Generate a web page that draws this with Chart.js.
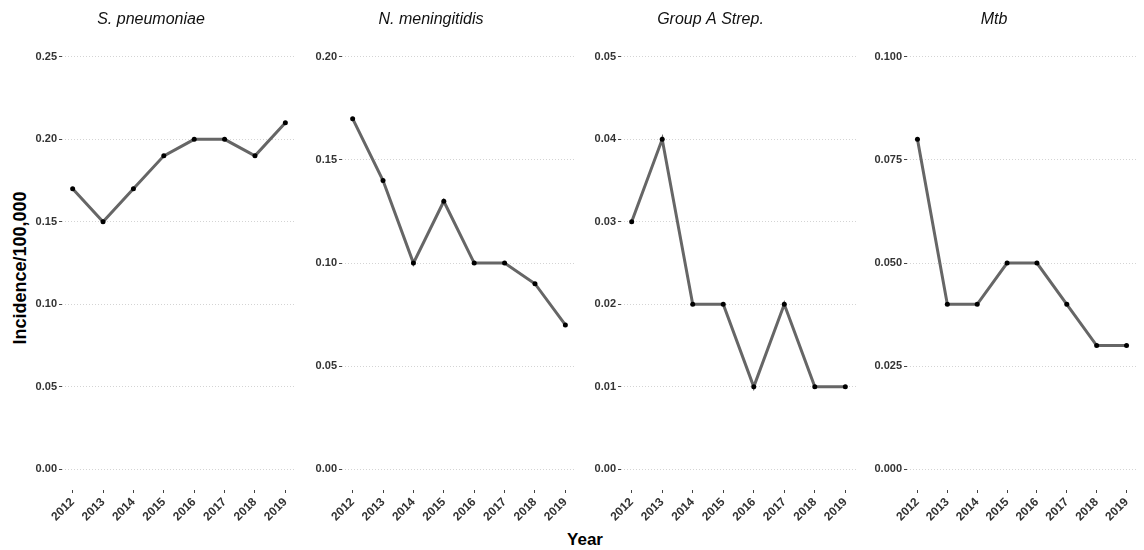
<!DOCTYPE html>
<html>
<head>
<meta charset="utf-8">
<script src="https://cdn.jsdelivr.net/npm/chart.js@4/dist/chart.umd.min.js"></script>
<style>
  html, body { margin: 0; padding: 0; background: #fff; }
  #wrap { position: relative; width: 1144px; height: 550px; overflow: hidden; font-family: "Liberation Sans", Arial, sans-serif; }
  .panel { position: absolute; top: 0; height: 550px; }
  #ylab { position: absolute; left: 20px; top: 268px; transform: translate(-50%, -50%) rotate(-90deg); font-weight: bold; font-size: 18px; color: #000; white-space: nowrap; }
  #xlab { position: absolute; left: 585px; top: 540px; transform: translate(-50%, -50%); font-weight: bold; font-size: 17px; color: #000; }
</style>
</head>
<body>
<div id="wrap">
  <div id="ylab">Incidence/100,000</div>
  <div id="xlab">Year</div>
</div>
<script>
const years = [2012, 2013, 2014, 2015, 2016, 2017, 2018, 2019];
const panelTitles = ["S. pneumoniae", "N. meningitidis", "Group A Strep.", "Mtb"];
const sPneumoniae = [0.17, 0.15, 0.17, 0.19, 0.20, 0.20, 0.19, 0.21];
const nMeningitidis = [0.17, 0.14, 0.10, 0.13, 0.10, 0.10, 0.09, 0.07];
const groupAStrep = [0.03, 0.04, 0.02, 0.02, 0.01, 0.02, 0.01, 0.01];
const mtb = [0.08, 0.04, 0.04, 0.05, 0.05, 0.04, 0.03, 0.03];
const yTicks1 = [0, 0.05, 0.10, 0.15, 0.20, 0.25];
const yTicks2 = [0, 0.05, 0.10, 0.15, 0.20];
const yTicks3 = [0, 0.01, 0.02, 0.03, 0.04, 0.05];
const yTicks4 = [0, 0.025, 0.05, 0.075, 0.10];
const yDecimals = [2, 2, 2, 3];

const seriesList = [sPneumoniae, nMeningitidis, groupAStrep, mtb];
const tickList = [yTicks1, yTicks2, yTicks3, yTicks4];
// plot-area left/right edges (pixels)
const plotLeft = [62, 342, 621, 907];
const plotRight = [300, 580, 860, 1141];
const Y_AXIS_W = 60;

const wrap = document.getElementById('wrap');

seriesList.forEach((vals, i) => {
  const ticks = tickList[i];
  const top = ticks[ticks.length - 1];
  const exp = top * 0.05;
  const xExp = (years[years.length - 1] - years[0]) * 0.05;
  const left = plotLeft[i] - Y_AXIS_W;
  const width = plotRight[i] - left;
  const div = document.createElement('div');
  div.className = 'panel';
  div.style.left = left + 'px';
  div.style.width = width + 'px';
  const cv = document.createElement('canvas');
  div.appendChild(cv);
  wrap.appendChild(div);

  new Chart(cv, {
    type: 'line',
    data: {
      datasets: [{
        data: years.map((y, k) => ({ x: y, y: vals[k] })),
        borderColor: '#666666',
        borderWidth: 3,
        pointRadius: 2.5,
        pointBackgroundColor: '#000',
        pointBorderColor: '#000',
        pointBorderWidth: 0,
        tension: 0,
        clip: false
      }]
    },
    options: {
      responsive: true,
      maintainAspectRatio: false,
      animation: false,
      layout: { padding: { top: 0, right: 0, bottom: 0, left: 0 } },
      plugins: {
        legend: { display: false },
        tooltip: { enabled: false },
        title: {
          display: true,
          text: panelTitles[i],
          color: '#111',
          font: { family: 'Liberation Sans', size: 16, style: 'italic', weight: 'normal' },
          padding: { top: 10, bottom: 7 }
        }
      },
      scales: {
        x: {
          type: 'linear',
          min: years[0] - xExp,
          max: years[years.length - 1] + xExp,
          afterBuildTicks: (s) => { s.ticks = years.map(v => ({ value: v })); },
          afterFit: (s) => { s.height = 60; },
          grid: { display: true, drawOnChartArea: false, color: 'transparent', tickColor: '#444', tickLength: 3, tickWidth: 1 },
          border: { display: false },
          ticks: {
            autoSkip: false,
            minRotation: 45, maxRotation: 45,
            padding: 2,
            color: '#333',
            font: { family: 'Liberation Sans', size: 12, weight: 'bold' },
            callback: (v) => String(v)
          }
        },
        y: {
          min: -exp,
          max: top + exp,
          afterBuildTicks: (s) => { s.ticks = ticks.map(v => ({ value: v })); },
          afterFit: (s) => { s.width = Y_AXIS_W; },
          grid: { color: '#d4d4d4', lineWidth: 1, tickColor: '#444', tickLength: 3, tickWidth: 1 },
          border: { display: false, dash: [1, 2] },
          ticks: {
            padding: 2,
            color: '#333',
            font: { family: 'Liberation Sans', size: 11, weight: 'bold' },
            callback: (v) => Number(v).toFixed(yDecimals[i])
          }
        }
      }
    }
  });
});
</script>
</body>
</html>
